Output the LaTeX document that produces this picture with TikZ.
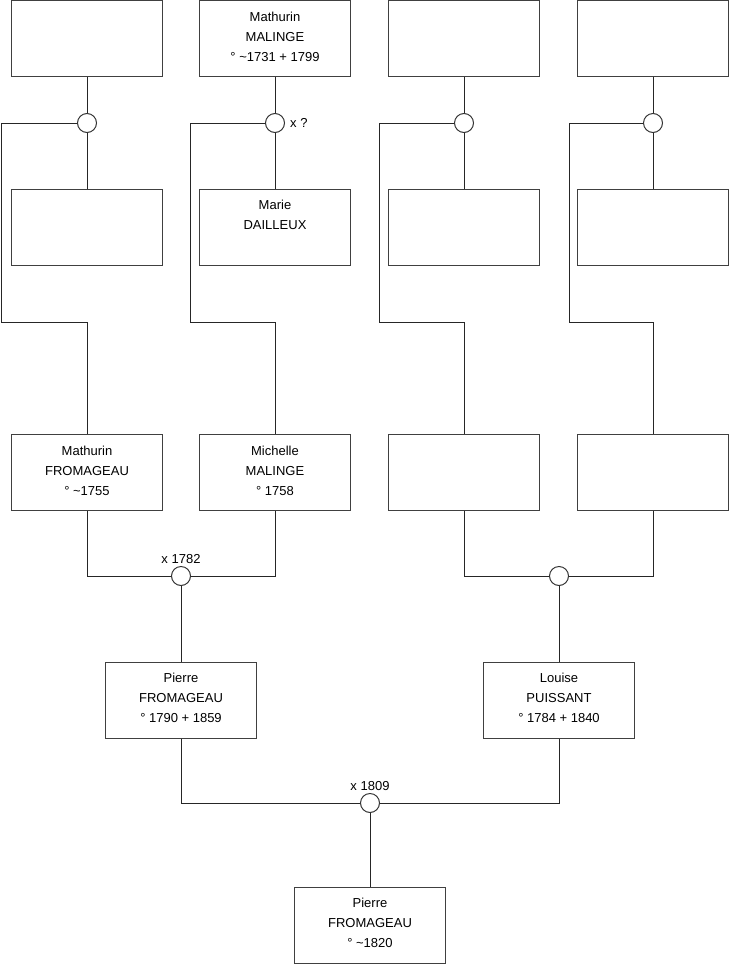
\documentclass[tikz,border=0pt]{standalone}
\usepackage{fontspec}
\setmainfont{Liberation Sans}
\usetikzlibrary{positioning}

\tikzset{
  person/.style={draw=black!75, line width=1pt, fill=white, inner sep=0pt,
    minimum width=151pt, minimum height=76pt},
  union/.style={circle, draw=black!80, line width=1pt, fill=white, inner sep=0pt,
    minimum size=19pt},
  link/.style={line width=1pt, black!85},
  note/.style={inner sep=2pt, font=\fontsize{13}{16}\selectfont},
}
\newcommand{\who}[1]{\parbox[c][76pt][t]{151pt}{\centering\fontsize{13}{20}\selectfont\vspace*{11.5pt}#1}}

\begin{document}
\begin{tikzpicture}[x=1pt,y=-1pt]
		
		\useasboundingbox (0,0) rectangle (740,975);
		
		% row 1
		\node[person] (a1) at (87,38.5) {};
		\node[person] (a2) at (275,38.5) {\who{Mathurin\\MALINGE\\° \textasciitilde1731 + 1799}};
		\node[person] (a3) at (464,38.5) {};
		\node[person] (a4) at (653,38.5) {};
		
		\node[union] (u1) at (87,123) {};
		\node[union] (u2) at (275,123) {};
		\node[union] (u3) at (464,123) {};
		\node[union] (u4) at (653,123) {};
		\node[note, right=3pt of u2] (m2) {x ?};
		
		% row 2
		\node[person] (b1) at (87,227) {};
		\node[person] (b2) at (275,227) {\who{Marie\\DAILLEUX}};
		\node[person] (b3) at (464,227) {};
		\node[person] (b4) at (653,227) {};
		
		\coordinate (k1) at (1.5,322);
		\coordinate (k2) at (190.5,322);
		\coordinate (k3) at (379.5,322);
		\coordinate (k4) at (569,322);
		
		% row 3
		\node[person] (c1) at (87,472.5) {\who{Mathurin\\FROMAGEAU\\° \textasciitilde1755}};
		\node[person] (c2) at (275,472.5) {\who{Michelle\\MALINGE\\° 1758}};
		\node[person] (c3) at (464,472.5) {};
		\node[person] (c4) at (653,472.5) {};
		
		\node[union] (v1) at (181,576) {};
		\node[union] (v2) at (559,576) {};
		\node[note, above=0pt of v1] (m5) {x 1782};
		
		% row 4
		\node[person] (d1) at (181,700) {\who{Pierre\\FROMAGEAU\\° 1790 + 1859}};
		\node[person] (d2) at (559,700) {\who{Louise\\PUISSANT\\° 1784 + 1840}};
		
		\node[union] (w) at (370,803) {};
		\node[note, above=0pt of w] (m7) {x 1809};
		
		% row 5
		\node[person] (e) at (370,925) {\who{Pierre\\FROMAGEAU\\° \textasciitilde1820}};
		
		% links
		\foreach \i in {1,...,4}{
			\draw[link] (a\i) -- (u\i) -- (b\i);
			\draw[link] (u\i) -| (k\i) -| (c\i);
		}
		\draw[link] (c1) |- (v1) -| (c2);
		\draw[link] (c3) |- (v2) -| (c4);
		\draw[link] (v1) -- (d1);
		\draw[link] (v2) -- (d2);
		\draw[link] (d1) |- (w) -| (d2);
		\draw[link] (w) -- (e);
		
	\end{tikzpicture}
\end{document}
